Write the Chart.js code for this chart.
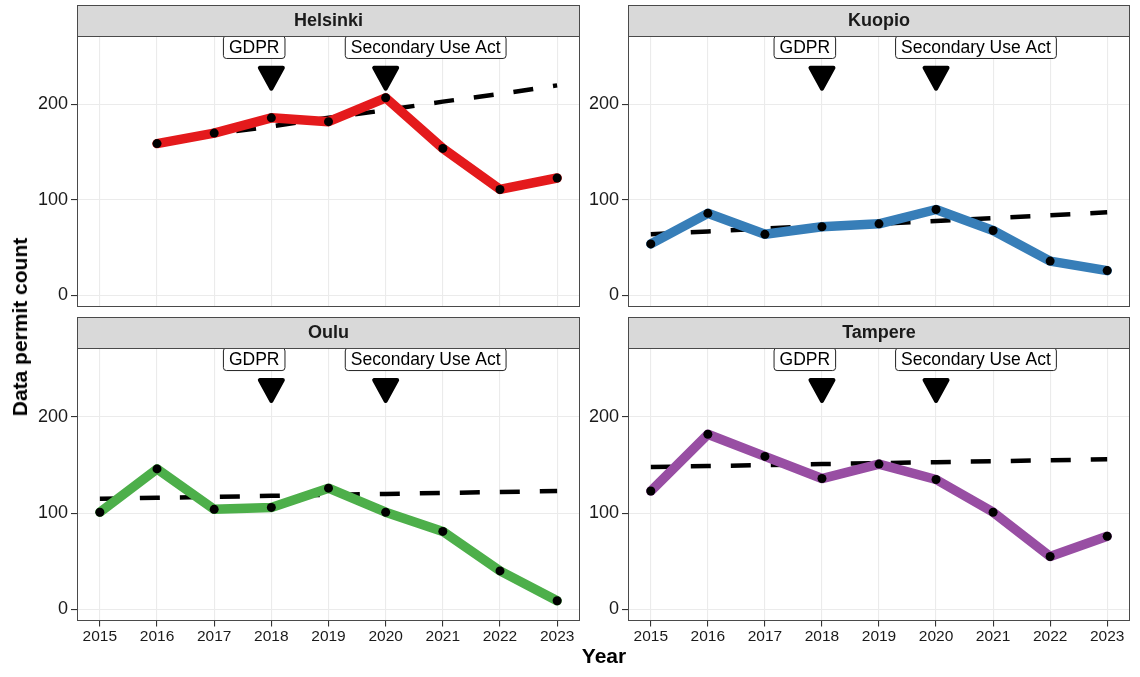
<!DOCTYPE html>
<html>
<head>
<meta charset="utf-8">
<script src="https://cdn.jsdelivr.net/npm/chart.js@4.4.1/dist/chart.umd.min.js"></script>
<style>
  html, body { margin: 0; padding: 0; background: #ffffff; }
  body { width: 1140px; height: 677px; position: relative; overflow: hidden; font-family: "Liberation Sans", Arial, sans-serif; }
  .panel { position: absolute; }
  .axis-title { position: absolute; font-weight: bold; font-size: 21px; color: #000; white-space: nowrap; }
  #ytitle { left: 20px; top: 327px; transform: translate(-50%, -50%) rotate(-90deg); }
  #xtitle { left: 604px; top: 656px; transform: translate(-50%, -50%); }
</style>
</head>
<body>
<div class="panel" style="left:0px;top:0px;width:600px;height:330px"><canvas id="c0"></canvas></div>
<div class="panel" style="left:585px;top:0px;width:555px;height:330px"><canvas id="c1"></canvas></div>
<div class="panel" style="left:0px;top:312px;width:600px;height:365px"><canvas id="c2"></canvas></div>
<div class="panel" style="left:585px;top:312px;width:555px;height:365px"><canvas id="c3"></canvas></div>
<div class="axis-title" id="ytitle">Data permit count</div>
<div class="axis-title" id="xtitle">Year</div>
<script>
// ---------------- data ----------------
const years = [2015, 2016, 2017, 2018, 2019, 2020, 2021, 2022, 2023];
const cities = ['Helsinki', 'Kuopio', 'Oulu', 'Tampere'];

const helsinkiCounts = [null, 159, 170, 186, 182, 207, 154, 111, 123];
const kuopioCounts   = [54, 86, 64, 72, 75, 90, 68, 36, 26];
const ouluCounts     = [101, 146, 104, 106, 126, 101, 81, 40, 9];
const tampereCounts  = [123, 182, 159, 136, 151, 135, 101, 55, 76];

const helsinkiTrend = [null, 160, 169, 177, 186, 194, 203, 211, 220];
const kuopioTrend   = [64, 67, 70, 73, 75, 78, 81, 84, 87];
const ouluTrend     = [115, 116, 117, 118, 119, 120, 121, 122, 123];
const tampereTrend  = [148, 149, 150, 151, 152, 153, 154, 155, 156];

const yTicks = [0, 100, 200];
const xTicks = years;

const eventNames = ['GDPR', 'Secondary Use Act'];
const eventYears = [2018, 2020];
const eventLabelX = [2017.7, 2020.7];
const eventLabelY = 260;
const eventMarkerY = 227.5;

// ---------------- styles ----------------
const cityColors = ['#E41A1C', '#377EB8', '#4DAF4A', '#984EA3'];
const FONT = '"Liberation Sans", Arial, Helvetica, sans-serif';
Chart.defaults.font.family = FONT;

const facetPlugin = {
  id: 'facet',
  afterDatasetsDraw(chart) {
    const ctx = chart.ctx;
    const xs = chart.scales.x, ys = chart.scales.y;
    ctx.save();
    // event markers (down triangles)
    for (let i = 0; i < eventYears.length; i++) {
      const px = xs.getPixelForValue(eventYears[i]);
      const py = ys.getPixelForValue(eventMarkerY);
      ctx.beginPath();
      ctx.moveTo(px - 11.5, py - 10.5);
      ctx.lineTo(px + 11.5, py - 10.5);
      ctx.lineTo(px, py + 10.5);
      ctx.closePath();
      ctx.lineJoin = 'round';
      ctx.lineWidth = 4;
      ctx.fillStyle = '#000';
      ctx.strokeStyle = '#000';
      ctx.fill();
      ctx.stroke();
    }
    // event labels
    ctx.font = '17.5px ' + FONT;
    ctx.textAlign = 'center';
    ctx.textBaseline = 'middle';
    for (let i = 0; i < eventNames.length; i++) {
      const lx = xs.getPixelForValue(eventLabelX[i]);
      const ly = ys.getPixelForValue(eventLabelY);
      const w = ctx.measureText(eventNames[i]).width + 11;
      const h = 22.6;
      ctx.beginPath();
      ctx.roundRect(lx - w / 2, ly - h / 2, w, h, 3);
      ctx.fillStyle = '#fff';
      ctx.fill();
      ctx.lineWidth = 1;
      ctx.strokeStyle = '#222';
      ctx.stroke();
      ctx.fillStyle = '#000';
      ctx.fillText(eventNames[i], lx, ly + 1);
    }
    ctx.restore();
  },
  afterDraw(chart, args, opts) {
    const ctx = chart.ctx;
    const a = chart.chartArea;
    ctx.save();
    // panel border
    ctx.lineWidth = 1;
    ctx.strokeStyle = '#4a4a4a';
    ctx.strokeRect(a.left + 0.5, a.top + 0.5, a.right - a.left - 1, a.bottom - a.top - 1);
    // strip
    const sh = 31;
    ctx.fillStyle = '#D9D9D9';
    ctx.fillRect(a.left, a.top - sh, a.right - a.left, sh);
    ctx.strokeRect(a.left + 0.5, a.top - sh + 0.5, a.right - a.left - 1, sh);
    ctx.fillStyle = '#1A1A1A';
    ctx.font = 'bold 18px ' + FONT;
    ctx.textAlign = 'center';
    ctx.textBaseline = 'middle';
    ctx.fillText(opts.title, (a.left + a.right) / 2, a.top - sh / 2 + 1);
    ctx.restore();
  }
};

function makePanel(id, idx, counts, trend, cfg) {
  const toPts = arr => years.map((yr, i) => ({ x: yr, y: arr[i] }));
  return new Chart(document.getElementById(id), {
    type: 'line',
    plugins: [facetPlugin],
    data: {
      datasets: [
        {
          label: cities[idx],
          data: toPts(counts),
          borderColor: cityColors[idx],
          borderWidth: 9.5,
          borderJoinStyle: 'round',
          borderCapStyle: 'round',
          pointRadius: 4.5,
          pointBackgroundColor: '#000',
          pointBorderWidth: 0,
          tension: 0,
          order: 0
        },
        {
          label: cities[idx] + ' trend',
          data: toPts(trend),
          borderColor: '#000',
          borderWidth: 4.5,
          borderDash: [20, 20],
          borderCapStyle: 'butt',
          pointRadius: 0,
          tension: 0,
          order: 1
        }
      ]
    },
    options: {
      responsive: true,
      maintainAspectRatio: false,
      animation: false,
      events: [],
      layout: { padding: cfg.padding },
      plugins: {
        legend: { display: false },
        tooltip: { enabled: false },
        title: { display: false },
        facet: { title: cities[idx] }
      },
      scales: {
        x: {
          type: 'linear',
          min: 2014.6,
          max: 2023.4,
          afterBuildTicks: s => { s.ticks = xTicks.map(v => ({ value: v })); },
          afterFit: s => { s.height = cfg.xHeight; },
          border: { display: false },
          grid: {
            color: '#EBEBEB',
            lineWidth: 1.1,
            drawTicks: cfg.showX,
            tickLength: 5.5,
            tickColor: '#333'
          },
          ticks: {
            display: cfg.showX,
            color: '#1A1A1A',
            font: { size: 15.5 },
            padding: 1,
            maxRotation: 0,
            autoSkip: false,
            callback: v => String(v)
          }
        },
        y: {
          type: 'linear',
          min: -12.1,
          max: 271.7,
          afterBuildTicks: s => { s.ticks = yTicks.map(v => ({ value: v })); },
          afterFit: s => { s.width = cfg.yWidth; },
          border: { display: false },
          grid: {
            color: '#EBEBEB',
            lineWidth: 1.1,
            drawTicks: true,
            tickLength: 6,
            tickColor: '#333'
          },
          ticks: {
            color: '#1A1A1A',
            font: { size: 18 },
            padding: 3,
            callback: v => String(v)
          }
        }
      }
    }
  });
}

makePanel('c0', 0, helsinkiCounts, helsinkiTrend,
  { padding: { left: 0, top: 36, right: 20, bottom: 23 }, yWidth: 77, xHeight: 0, showX: false });
makePanel('c1', 1, kuopioCounts, kuopioTrend,
  { padding: { left: 0, top: 36, right: 10, bottom: 23 }, yWidth: 43, xHeight: 0, showX: false });
makePanel('c2', 2, ouluCounts, ouluTrend,
  { padding: { left: 0, top: 36, right: 20, bottom: 26 }, yWidth: 77, xHeight: 30, showX: true });
makePanel('c3', 3, tampereCounts, tampereTrend,
  { padding: { left: 0, top: 36, right: 10, bottom: 26 }, yWidth: 43, xHeight: 30, showX: true });
</script>
</body>
</html>
